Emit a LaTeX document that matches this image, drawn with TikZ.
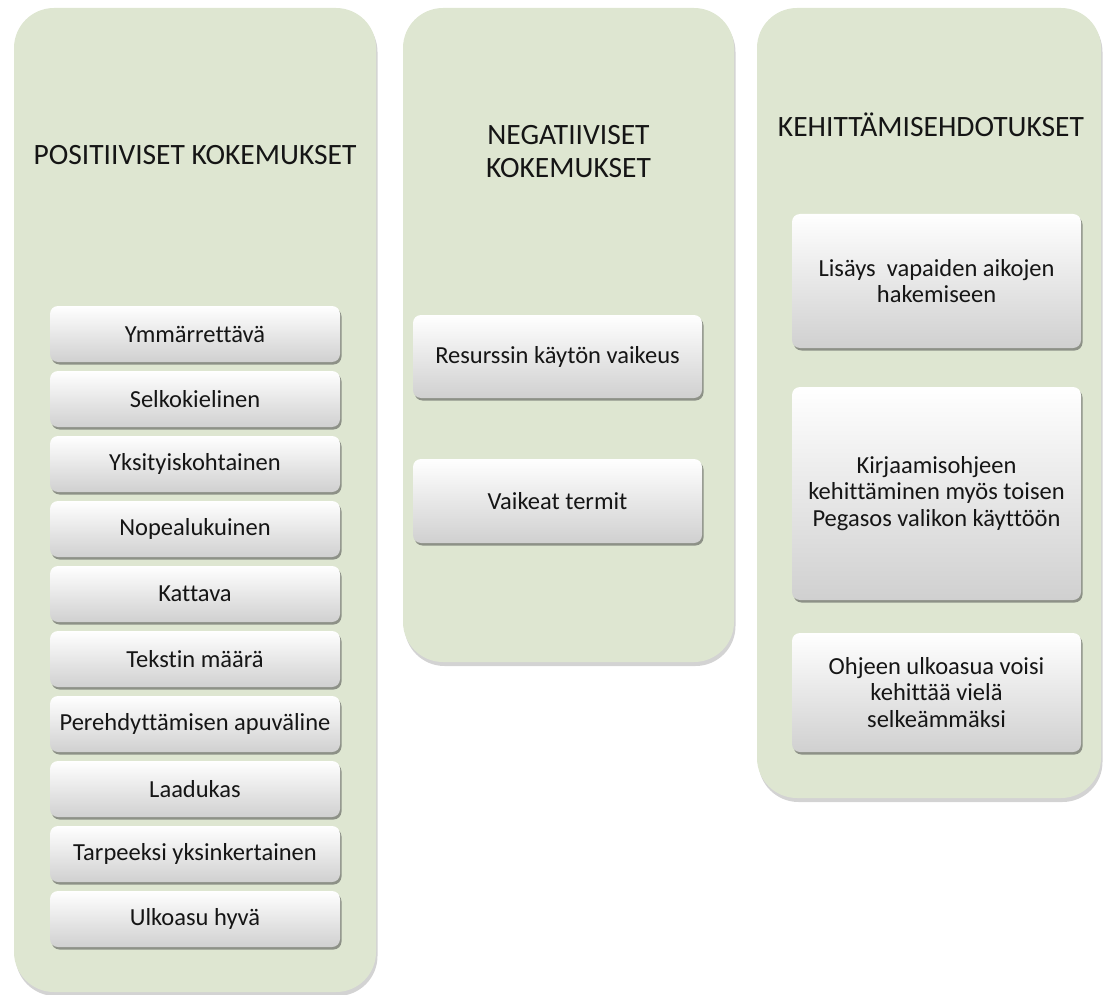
\documentclass[tikz,border=0pt]{standalone}
\usepackage{fontspec}
\setmainfont{Carlito}[Ligatures=NoCommon]
\usetikzlibrary{shadows}
\definecolor{panelgreen}{HTML}{DEE6D1}
\definecolor{boxgray}{HTML}{D0D0D0}
\definecolor{ink}{HTML}{151515}

\tikzset{
  panel/.style={rectangle, rounded corners=40pt, fill=panelgreen, draw=none,
    drop shadow={shadow xshift=1.5pt, shadow yshift=-4pt, opacity=0.35}},
  itembox/.style={rectangle, rounded corners=8pt, top color=white, bottom color=boxgray,
    draw=none, text=ink, font=\fontsize{24.5}{26.5}\selectfont, align=center, inner sep=0pt,
    drop shadow={shadow xshift=1.5pt, shadow yshift=-2.5pt, opacity=0.55, fill=black!70}},
  heading/.style={text=ink, font=\fontsize{29.5}{33}\selectfont, align=center, inner sep=0pt}
}

\begin{document}
\begin{tikzpicture}[x=1pt,y=-1pt]
  \useasboundingbox (0,0) rectangle (1109,995);

  % Left: positive experiences
  \node[panel, minimum width=362pt, minimum height=984pt] (pos) at (195,500) {};
  \node[heading, anchor=base] (posT) at (195,165) {POSITIIVISET KOKEMUKSET};
  \foreach \i/\txt in {0/Ymmärrettävä, 1/Selkokielinen, 2/Yksityiskohtainen, 3/Nopealukuinen,
      4/Kattava, 5/Tekstin määrä, 6/Perehdyttämisen apuväline, 7/Laadukas,
      8/Tarpeeksi yksinkertainen, 9/Ulkoasu hyvä} {
    \node[itembox, minimum width=290pt, minimum height=56pt] (pos\i) at (195,334+65*\i) {\txt};
  }

  % Middle: negative experiences
  \node[panel, minimum width=331pt, minimum height=654pt] (neg) at (568.5,335) {};
  \node[heading] (negT) at (568.5,152) {NEGATIIVISET\\KOKEMUKSET};
  \node[itembox, minimum width=289pt, minimum height=83pt] (neg0) at (557.5,356.5) {Resurssin käytön vaikeus};
  \node[itembox, minimum width=289pt, minimum height=84pt] (neg1) at (557.5,501) {Vaikeat termit};

  % Right: suggestions
  \node[panel, minimum width=344pt, minimum height=790pt] (dev) at (929,403) {};
  \node[heading, anchor=base] (devT) at (931,137) {KEHITTÄMISEHDOTUKSET};
  \node[itembox, minimum width=289pt, minimum height=134pt] (dev0) at (936.5,281) {Lisäys\ \ vapaiden aikojen\\hakemiseen};
  \node[itembox, minimum width=289pt, minimum height=213pt] (dev1) at (936.5,493.5) {Kirjaamisohjeen\\kehittäminen myös toisen\\Pegasos valikon käyttöön};
  \node[itembox, minimum width=289pt, minimum height=119pt] (dev2) at (936.5,692.5) {Ohjeen ulkoasua voisi\\kehittää vielä\\selkeämmäksi};
\end{tikzpicture}
\end{document}
